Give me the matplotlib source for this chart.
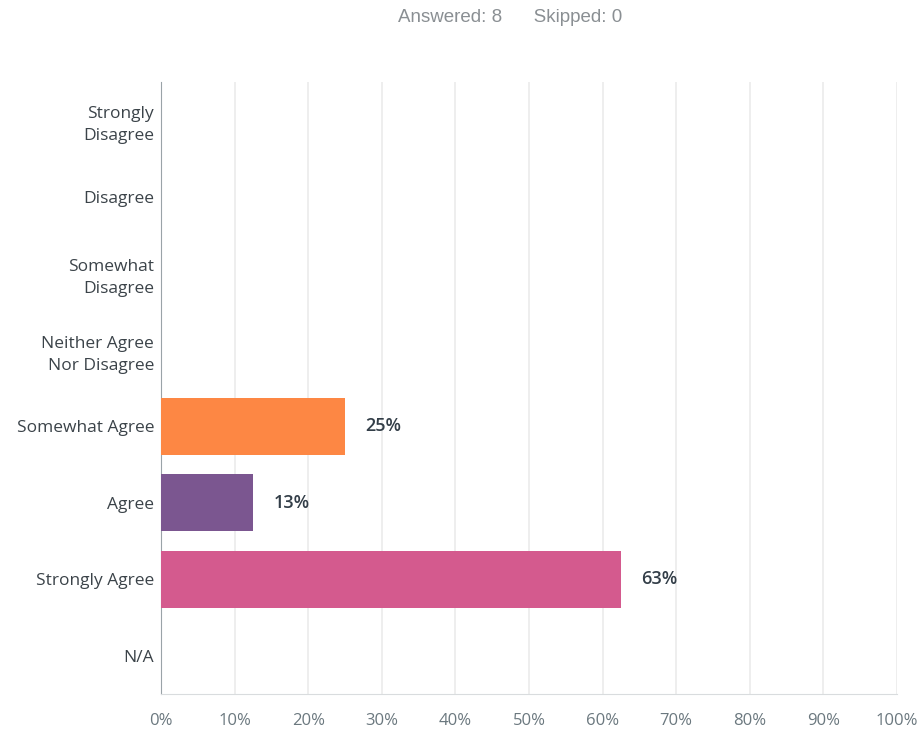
import matplotlib.pyplot as plt

categories = [
    "Strongly\nDisagree",
    "Disagree",
    "Somewhat\nDisagree",
    "Neither Agree\nNor Disagree",
    "Somewhat Agree",
    "Agree",
    "Strongly Agree",
    "N/A",
]
values = [0, 0, 0, 0, 25.0, 12.5, 62.5, 0]
value_labels = ["", "", "", "", "25%", "13%", "63%", ""]
colors = ["#6cb8e0", "#5bb38f", "#f2c14e", "#a0cf67", "#fd8744", "#7b5690", "#d45a8e", "#9aa9b4"]
xticks = list(range(0, 101, 10))


def main():
    plt.rcParams["font.family"] = ["Open Sans", "DejaVu Sans"]
    fig = plt.figure(figsize=(9.17, 7.32), dpi=100)
    ax = fig.add_axes([161 / 917, 38 / 732, 736 / 917, 612 / 732])

    y = list(range(len(categories)))
    ax.barh(y, values, height=0.75, color=colors, zorder=3)
    for yi, v, lab in zip(y, values, value_labels):
        if lab:
            ax.text(v + 2.8, yi, lab, va="center", ha="left", fontsize=13,
                    fontweight="semibold", color="#333e48", zorder=4)

    ax.set_xlim(0, 100)
    ax.set_ylim(len(categories) - 0.5, -0.5)
    ax.set_yticks(y)
    ax.set_yticklabels(categories, fontsize=12.5, color="#3b4349", linespacing=1.5)
    ax.set_xticks(xticks)
    ax.set_xticklabels([f"{t}%" for t in xticks], fontsize=12, color="#6b787f")
    ax.tick_params(axis="x", length=0, pad=14)
    ax.tick_params(axis="y", length=0, pad=5)

    ax.grid(axis="x", color="#ebebeb", linewidth=1.2, zorder=0)
    for s in ["top", "right"]:
        ax.spines[s].set_visible(False)
    ax.spines["left"].set_color("#9aa3a8")
    ax.spines["bottom"].set_color("#d9dcde")

    fig.text(510 / 917, 1 - 18 / 732, "Answered: 8      Skipped: 0", ha="center",
             va="center", fontsize=13.5, color="#8a8f93", family="Liberation Sans")

    fig.savefig("out.png", dpi=100)


main() if __name__ == "__main__" else None
